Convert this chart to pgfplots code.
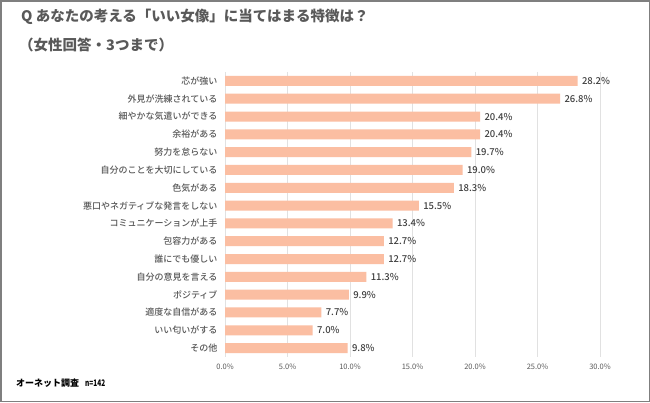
\documentclass[border=0pt]{standalone}
\usepackage{fontspec}
\setmainfont{Noto Sans CJK JP}
\newfontfamily\medfont{Noto Sans CJK JP Medium}
\usepackage{pgfplots}
\pgfplotsset{compat=1.18}
\definecolor{barc}{RGB}{251,190,162}
\definecolor{gridc}{RGB}{225,225,225}
\definecolor{labc}{RGB}{89,89,89}
\definecolor{valc}{RGB}{64,64,64}
\definecolor{framec}{RGB}{127,127,127}
\begin{document}
\begin{tikzpicture}[x=1pt,y=1pt]
\useasboundingbox (0,0) rectangle (650,-402);
\fill[white] (0,0) rectangle (650,-402);
\draw[framec, line width=1.5pt] (0.75,-0.75) rectangle (649.25,-401.25);
\node[anchor=west, font=\fontsize{14.5}{16}\selectfont\bfseries, text=labc, inner sep=0pt] at (21,-17) {Q あなたの考える「いい女像」に当てはまる特徴は？};
\node[anchor=west, font=\fontsize{14.5}{16}\selectfont\bfseries, text=labc, inner sep=0pt] at (19,-45) {（女性回答・3つまで）};
\node[anchor=west, font=\fontsize{9}{11}\selectfont\bfseries, text=black, inner sep=0pt] at (16,-383) {オーネット調査\hspace{6pt}\scalebox{0.72}[1]{n=142}};
\begin{axis}[
  at={(225pt,-357pt)}, anchor=south west,
  scale only axis, width=375pt, height=285pt,
  xbar, bar width=10pt,
  xmin=0, xmax=30, ymin=-0.5, ymax=15.5,
  y dir=reverse,
  axis line style={draw=none},
  xmajorgrids, grid style={gridc, line width=0.8pt},
  xtick={0,5,...,30},
  xticklabel={\pgfmathprintnumber[fixed,zerofill,precision=1]{\tick}\%},
  /pgf/number format/assume math mode=true,
  xticklabel style={font=\fontsize{7.5}{9}\selectfont, text=labc, yshift=-3pt},
  ytick={0,...,15},
  yticklabels={芯が強い,外見が洗練されている,細やかな気遣いができる,余裕がある,努力を怠らない,自分のことを大切にしている,色気がある,悪口やネガティブな発言をしない,コミュニケーションが上手,包容力がある,誰にでも優しい,自分の意見を言える,ポジティブ,適度な自信がある,いい匂いがする,その他},
  yticklabel style={font=\medfont\fontsize{9}{11}\selectfont, text=labc, xshift=-4pt},
  major tick length=0pt,
  nodes near coords={\pgfmathprintnumber[fixed,zerofill,precision=1]{\pgfplotspointmeta}\%},
  nodes near coords style={font=\medfont\fontsize{9.5}{11}\selectfont, text=valc, anchor=west, xshift=1pt},
  point meta=explicit,
]
\addplot[fill=barc, draw=none] coordinates {
(28.2,0) [28.2]
(26.8,1) [26.8]
(20.4,2) [20.4]
(20.4,3) [20.4]
(19.7,4) [19.7]
(19.0,5) [19.0]
(18.3,6) [18.3]
(15.5,7) [15.5]
(13.4,8) [13.4]
(12.7,9) [12.7]
(12.7,10) [12.7]
(11.3,11) [11.3]
(9.9,12) [9.9]
(7.7,13) [7.7]
(7.0,14) [7.0]
(9.8,15) [9.8]
};
\end{axis}
\end{tikzpicture}
\end{document}
